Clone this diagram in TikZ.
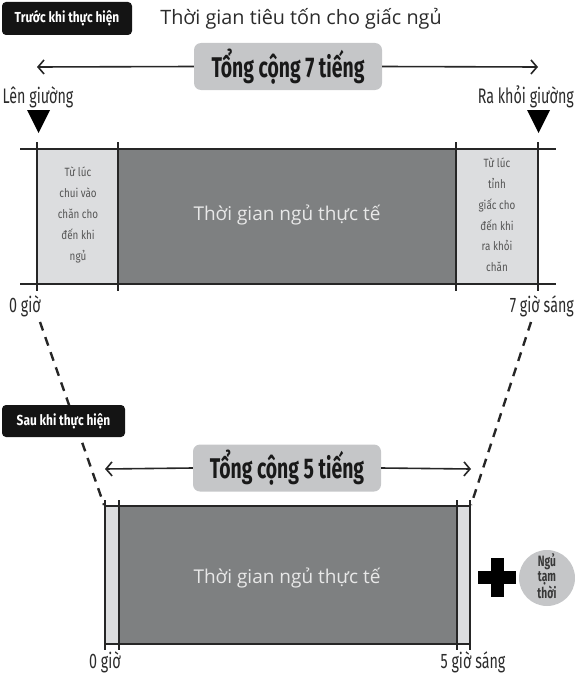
\documentclass[tikz,border=0pt]{standalone}
\usepackage{fontspec}
\setmainfont{Open Sans}
\newfontfamily\cnd[FakeStretch=0.68]{Fira Sans}
\newfontfamily\cns[FakeStretch=0.82]{Fira Sans}
\usetikzlibrary{arrows.meta}
\definecolor{darkband}{HTML}{7E8081}
\definecolor{lightband}{HTML}{DCDDDF}
\definecolor{labelgray}{HTML}{C5C6C8}
\definecolor{inktext}{HTML}{2B2B2B}
\definecolor{smalltext}{HTML}{555555}
\definecolor{bandtext}{HTML}{E8E8E8}
\begin{document}
\begin{tikzpicture}[x=1pt,y=-1pt,
  blackbox/.style={fill=black!92, rounded corners=4pt, text=white, inner sep=0pt,
    font=\cns\bfseries\fontsize{14.5}{16}\selectfont},
  graybox/.style={fill=labelgray, rounded corners=7pt, minimum width=188pt, minimum height=47pt,
    inner sep=0pt, text=black!90, font=\cnd\bfseries\fontsize{28.5}{32}\selectfont},
  arr/.style={-{Straight Barb[length=6pt,width=14pt,line width=1.6pt]}, line width=1.6pt, black!85},
  cond/.style={inner sep=0pt, text=inktext, font=\cnd\fontsize{21}{24}\selectfont},
  small/.style={inner sep=0pt, align=center, text=smalltext, font=\cns\fontsize{12}{20.8}\selectfont},
  bandlabel/.style={inner sep=0pt, text=bandtext, font=\fontsize{19}{22}\selectfont},
  hline/.style={line width=2.4pt, black!85},
  vline/.style={line width=1.3pt, black!85},
  dash line/.style={line width=2.4pt, black!85, dash pattern=on 9pt off 7pt},
]
\useasboundingbox (0,0) rectangle (575,677);

% ---------- header ----------
\node[blackbox, minimum width=130pt, minimum height=33pt] (before) at (67,18.5) {Trước khi thực hiện};
\node[inner sep=0pt, text=inktext, font=\fontsize{19.8}{22}\selectfont] (title) at (301,19) {Thời gian tiêu tốn cho giấc ngủ};

\node[graybox] (tot7) at (288,66.5) {Tổng cộng 7 tiếng};
\coordinate (l7) at (37,67);
\coordinate (r7) at (538,67);
\draw[arr] (tot7.west) -- (l7);
\draw[arr] (tot7.east) -- (r7);

\node[cond] (bed) at (38,97) {Lên giường};
\node[cond, anchor=east] (getup) at (574,97) {Ra khỏi giường};
\fill[black] (27,110) -- (50,110) -- (38.5,133) -- cycle;
\fill[black] (527,110) -- (550,110) -- (538.5,133) -- cycle;

% ---------- top band ----------
\fill[lightband] (37,149) rectangle (118,284);
\fill[darkband] (118,149) rectangle (456,284);
\fill[lightband] (456,149) rectangle (538,284);
\draw[hline] (20,149) -- (556,149);
\draw[hline] (20,284) -- (556,284);
\foreach \xx in {37,118,456,538} \draw[vline] (\xx,142) -- (\xx,291);

\node[small] (fallasleep) at (78,215) {Từ lúc\\chui vào\\chăn cho\\đến khi\\ngủ};
\node[bandlabel] (sleep7) at (287,215) {Thời gian ngủ thực tế};
\node[small] (wakeup) at (497,215) {Từ lúc\\tỉnh\\giấc cho\\đến khi\\ra khỏi\\chăn};

\node[cond] (zero7) at (25,306) {0 giờ};
\node[cond, anchor=east] (seven) at (574,306) {7 giờ sáng};

% ---------- dashed projection ----------
\coordinate (dls) at (40,322);
\coordinate (dle) at (104,505);
\coordinate (drs) at (531,322);
\coordinate (dre) at (471,505);
\draw[dash line] (dls) -- (dle);
\draw[dash line] (drs) -- (dre);

% ---------- after ----------
\node[blackbox, minimum width=123pt, minimum height=32pt] (after) at (63.5,421) {Sau khi thực hiện};

\node[graybox] (tot5) at (287,468) {Tổng cộng 5 tiếng};
\coordinate (l5) at (105,469);
\coordinate (r5) at (471,469);
\draw[arr] (tot5.west) -- (l5);
\draw[arr] (tot5.east) -- (r5);

\fill[lightband] (105,506) rectangle (119,644);
\fill[darkband] (119,506) rectangle (457,644);
\fill[lightband] (457,506) rectangle (470,644);
\draw[hline] (105,506) -- (470,506);
\draw[hline] (105,644) -- (470,644);
\foreach \xx in {105,119,457,470} \draw[vline] (\xx,500) -- (\xx,650);

\node[bandlabel] (sleep5) at (287,578) {Thời gian ngủ thực tế};

\node[cond] (zero5) at (105,662) {0 giờ};
\node[cond] (five) at (473,662) {5 giờ sáng};

% plus sign and nap circle
\fill[black] (478,571) rectangle (516,584);
\fill[black] (490.5,558) rectangle (503.5,597);
\node[circle, fill=labelgray, minimum size=56pt, inner sep=0pt] (nap) at (547,578) {};
\node[inner sep=0pt, align=center, text=black!78,
  font=\cnd\bfseries\fontsize{15}{14.5}\selectfont] (naptext) at ([yshift=1.5pt]nap.center) {Ngủ\\tạm\\thời};
\end{tikzpicture}
\end{document}
